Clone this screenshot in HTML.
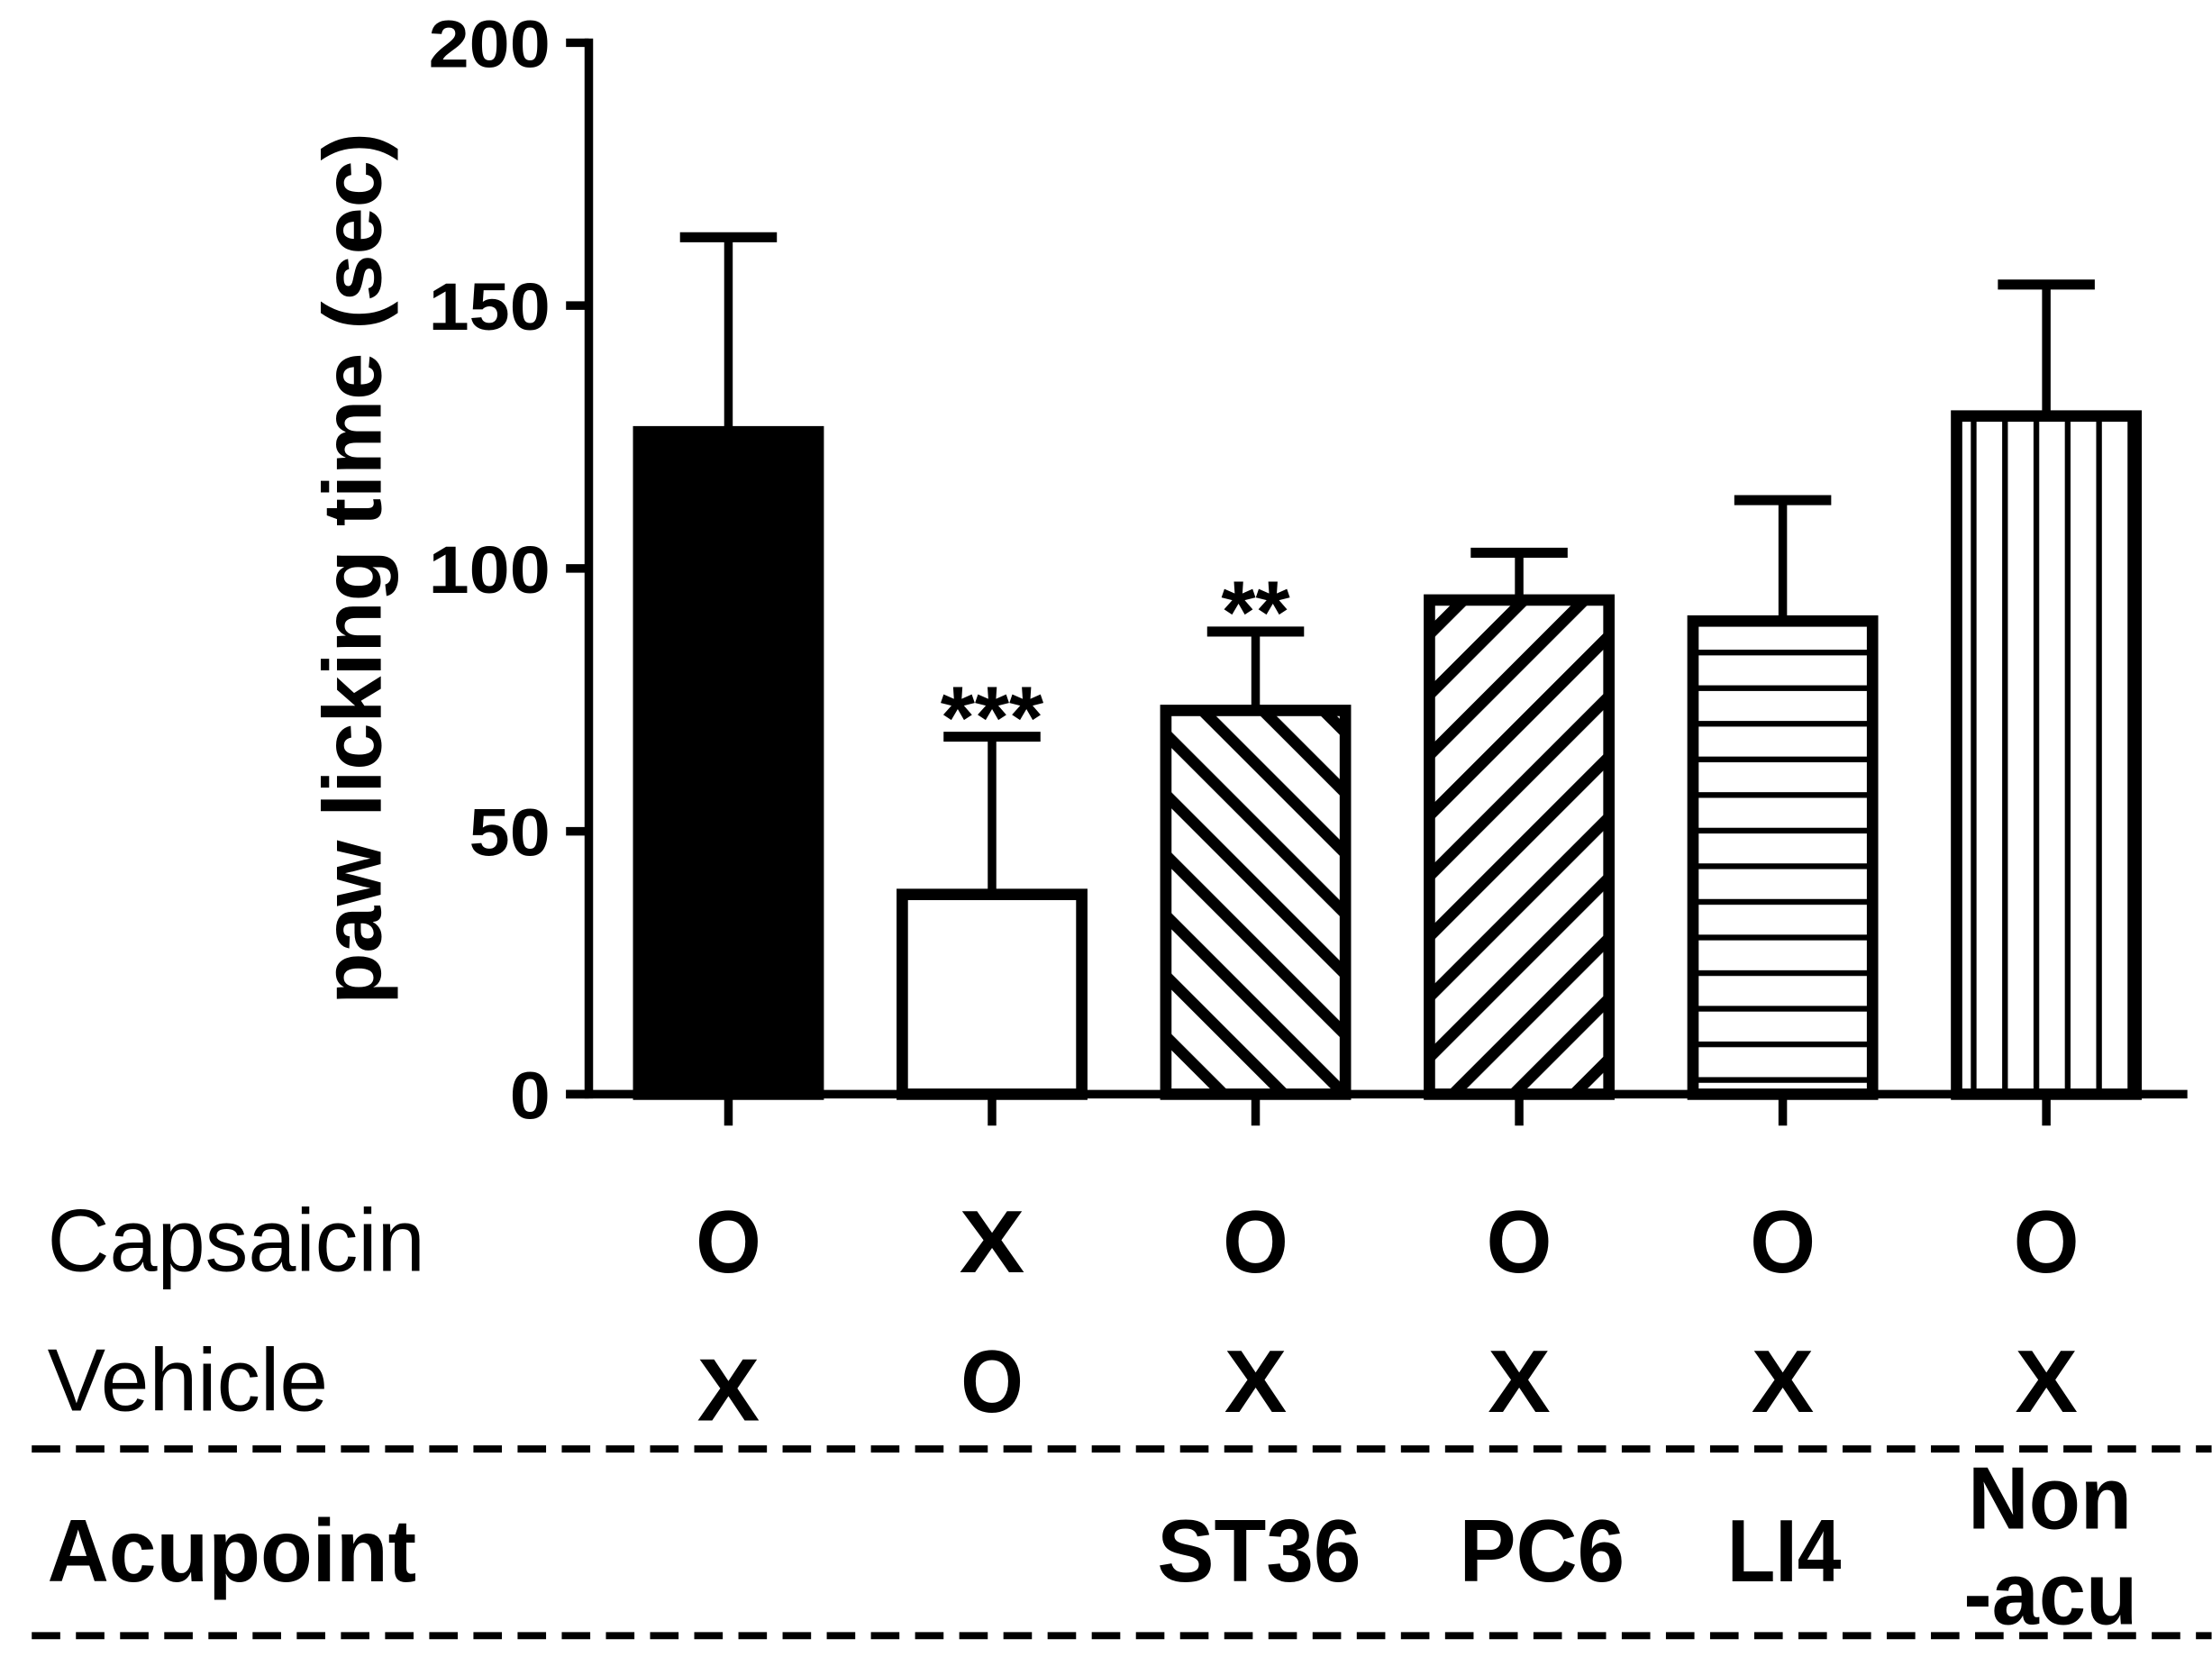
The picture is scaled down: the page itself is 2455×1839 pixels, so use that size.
<!DOCTYPE html>
<html><head><meta charset="utf-8"><style>
html,body{margin:0;padding:0;background:#fff;}
svg{display:block;}
text{font-family:"Liberation Sans",Arial,sans-serif;fill:#000;}
</style></head><body>
<svg id="chart" width="2455" height="1839" viewBox="0 0 1552 1163" xmlns="http://www.w3.org/2000/svg">
<defs>
<pattern id="p-back" patternUnits="userSpaceOnUse" width="30" height="30" patternTransform="rotate(-45)"><rect width="30" height="30" fill="#fff"/><rect x="0" y="0" width="8" height="30" fill="#000"/></pattern>
<pattern id="p-fwd" patternUnits="userSpaceOnUse" width="30" height="30" patternTransform="rotate(45)"><rect width="30" height="30" fill="#fff"/><rect x="0" y="0" width="8" height="30" fill="#000"/></pattern>
<pattern id="p-horiz" patternUnits="userSpaceOnUse" width="25" height="25" y="6"><rect width="25" height="25" fill="#fff"/><rect x="0" y="0" width="25" height="4" fill="#000"/></pattern>
<pattern id="p-vert" patternUnits="userSpaceOnUse" width="22" height="22" x="-3"><rect width="22" height="22" fill="#fff"/><rect x="0" y="0" width="4" height="22" fill="#000"/></pattern>
</defs>
<g id="plot"></g>
</svg>
<script>
const categories = ["Control", "Vehicle", "ST36", "PC6", "LI4", "Non-acu"];
const means = [126, 38, 73, 94, 90, 129];
const errors = [37, 30, 15, 9, 23, 25];
const stars = ["", "***", "**", "", "", ""];
const fills = ["#000", "#fff", "url(#p-back)", "url(#p-fwd)", "url(#p-horiz)", "url(#p-vert)"];
const yTicks = [0, 50, 100, 150, 200];
const capsaicin = ["O", "X", "O", "O", "O", "O"];
const vehicle = ["X", "O", "X", "X", "X", "X"];

const NS = "http://www.w3.org/2000/svg";
const g = document.getElementById("plot");
const y0 = 768, yTop = 30, yMax = 200;
function yScale(v){ return y0 - (v / yMax) * (y0 - yTop); }
const xStart = 511, xStep = 185;
function xScale(i){ return xStart + i * xStep; }
const barW = 126;

function mk(tag, attrs, txt){
  const e = document.createElementNS(NS, tag);
  for (const k in attrs) e.setAttribute(k, attrs[k]);
  if (txt !== undefined) e.textContent = txt;
  g.appendChild(e);
  return e;
}

categories.forEach((c, i) => {
  const cx = xScale(i), yv = yScale(means[i]), ye = yScale(means[i] + errors[i]);
  const eb = mk("line", {x1: cx, x2: cx, y1: yv, y2: ye, stroke: "#000", "stroke-width": 6});
  
  
  const cap = mk("line", {x1: cx - 34, x2: cx + 34, y1: ye, y2: ye, stroke: "#000", "stroke-width": 7});
  
  
  const r = mk("rect", {x: cx - barW / 2, y: yv, width: barW, height: y0 - yv, fill: fills[i], stroke: "#000", "stroke-width": 8});
  
  
  if (stars[i]) {
    const s = mk("text", {x: cx, y: ye + 8, "text-anchor": "middle", "font-size": 62, "font-weight": "bold"}, stars[i]);
    
    
  }
  const t = mk("line", {x1: cx, x2: cx, y1: y0, y2: 790, stroke: "#000", "stroke-width": 6});
  
  
  const a = mk("text", {x: cx - 23, y: 893, "font-size": 62, "font-weight": "bold", textLength: 46, lengthAdjust: "spacingAndGlyphs"}, capsaicin[i]);
  
  
  const b = mk("text", {x: cx - 22, y: i === 0 ? 997 : 991, "font-size": 62, "font-weight": "bold", textLength: 44, lengthAdjust: "spacingAndGlyphs"}, vehicle[i]);
  
  
});

const ya = mk("line", {x1: 413, x2: 413, y1: yTop - 3, y2: y0 + 3, stroke: "#000", "stroke-width": 6});


const xa = mk("line", {x1: 397, x2: 1535, y1: y0, y2: y0, stroke: "#000", "stroke-width": 6});


yTicks.forEach(v => {
  const yy = yScale(v);
  const l = mk("line", {x1: 397, x2: 413, y1: yy, y2: yy, stroke: "#000", "stroke-width": 6});
  
  
  const s = String(v);
  const t = mk("text", {x: 386 - s.length * 28.5, y: yy + 17, "font-size": 47, "font-weight": "bold", textLength: s.length * 28.5, lengthAdjust: "spacingAndGlyphs"}, s);
  
  
});
const yt = mk("text", {x: -306, y: 0, "font-size": 58, "font-weight": "bold", textLength: 612, lengthAdjust: "spacingAndGlyphs", transform: "translate(267,399) rotate(-90)"}, "paw licking time (sec)");



const l1 = mk("text", {x: 33, y: 892, "font-size": 62, textLength: 265, lengthAdjust: "spacingAndGlyphs"}, "Capsaicin");


const l2 = mk("text", {x: 33, y: 990, "font-size": 62, textLength: 197, lengthAdjust: "spacingAndGlyphs"}, "Vehicle");


const l3 = mk("text", {x: 33, y: 1110, "font-size": 62, "font-weight": "bold", textLength: 259, lengthAdjust: "spacingAndGlyphs"}, "Acupoint");


[[812, 1110, "ST36", 143], [1024, 1110, "PC6", 116], [1212, 1110, "LI4", 80], [1381, 1073, "Non", 115], [1378, 1140, "-acu", 122]].forEach((d, k) => {
  const t = mk("text", {x: d[0], y: d[1], "font-size": 62, "font-weight": "bold", textLength: d[3], lengthAdjust: "spacingAndGlyphs"}, d[2]);
  
  
});
[1017, 1148].forEach((yy, k) => {
  const d = mk("line", {x1: 22, x2: 1552, y1: yy, y2: yy, stroke: "#000", "stroke-width": 5, "stroke-dasharray": "20 11"});
  
  
});
</script>
</body></html>
